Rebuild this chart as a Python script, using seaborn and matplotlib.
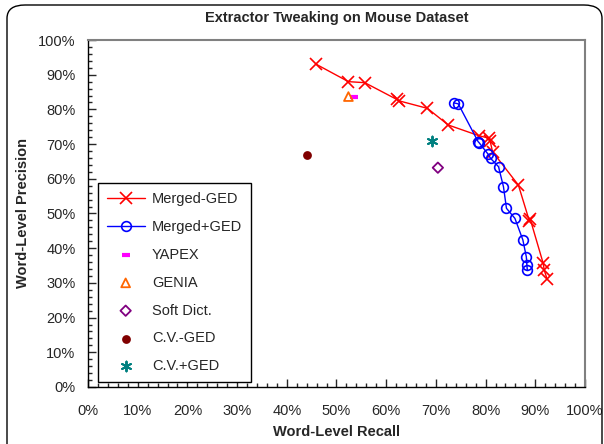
import matplotlib
matplotlib.use("Agg")
import matplotlib.pyplot as plt
from matplotlib.patches import FancyBboxPatch
from matplotlib.ticker import MultipleLocator, FuncFormatter
import seaborn as sns

# values (percent)
merged_minus_x = [45.8, 52.4, 55.7, 62.1, 62.5, 68.3, 72.5, 78.7, 80.7, 80.9, 81.4, 86.6, 88.8, 89.0, 91.6, 91.8, 92.4]
merged_minus_y = [93.1, 88.0, 87.7, 82.9, 82.5, 80.3, 75.5, 72.4, 71.7, 71.0, 67.8, 58.2, 47.9, 48.3, 35.6, 33.7, 31.0]

merged_plus_x = [73.6, 74.5, 78.5, 78.7, 80.5, 81.0, 82.6, 82.6, 83.6, 84.2, 85.9, 87.5, 88.2, 88.3, 88.4, 88.3]
merged_plus_y = [81.9, 81.6, 70.7, 70.4, 67.1, 65.9, 64.5, 62.5, 57.7, 51.5, 48.6, 42.4, 37.5, 37.1, 33.7, 33.3]

single_names = ["YAPEX", "GENIA", "Soft Dict.", "C.V.-GED", "C.V.+GED"]
single_x = [53.5, 52.4, 70.4, 44.1, 69.2]
single_y = [83.7, 83.7, 63.2, 66.9, 70.9]

sns.set_style("white")
plt.rcParams['font.family'] = ['Liberation Sans', 'DejaVu Sans']

fig = plt.figure(figsize=(6.04, 4.44), dpi=100)
ax = fig.add_axes([0.1457, 0.1284, 0.8228, 0.7815])

# rounded chart border like the Excel chart area
border = FancyBboxPatch((7 / 604, -20 / 444), 595 / 604, 459 / 444,
                        boxstyle="round,pad=0,rounding_size=0.03",
                        transform=fig.transFigure, fill=False,
                        edgecolor="black", linewidth=1.0, clip_on=False)
fig.patches.append(border)

sns.lineplot(x=merged_minus_x, y=merged_minus_y, sort=False, ax=ax, color="red",
             marker="x", markersize=8, markeredgecolor="red", markeredgewidth=1.2,
             linewidth=1.0, label="Merged-GED")
sns.lineplot(x=merged_plus_x, y=merged_plus_y, sort=False, ax=ax, color="blue",
             marker="o", markersize=7, markerfacecolor="none", markeredgecolor="blue",
             markeredgewidth=1.2, linewidth=1.0, label="Merged+GED")

styles = {
    "YAPEX": dict(marker="_", s=30, color="magenta", linewidths=3),
    "GENIA": dict(marker="^", s=40, facecolors="none", edgecolors="#ff6600", linewidths=1.3),
    "Soft Dict.": dict(marker="D", s=28, facecolors="none", edgecolors="#800080", linewidths=1.3),
    "C.V.-GED": dict(marker="o", s=40, color="#800000", linewidths=0),
    "C.V.+GED": dict(marker=(6, 2, 0), s=50, color="#008080", linewidths=1.4),
}
for name, x, y in zip(single_names, single_x, single_y):
    sns.scatterplot(x=[x], y=[y], ax=ax, label=name, **styles[name])

ax.set_xlim(0, 100)
ax.set_ylim(0, 100)
pct = FuncFormatter(lambda v, p: f"{v:.0f}%")
ax.xaxis.set_major_locator(MultipleLocator(10))
ax.yaxis.set_major_locator(MultipleLocator(10))
ax.xaxis.set_minor_locator(MultipleLocator(2))
ax.yaxis.set_minor_locator(MultipleLocator(2))
ax.xaxis.set_major_formatter(pct)
ax.yaxis.set_major_formatter(pct)
ax.tick_params(which="major", direction="in", length=6, width=1, labelsize=10.5,
               bottom=True, left=True, pad=9)
ax.tick_params(axis="x", which="major", pad=12)
ax.tick_params(which="minor", direction="in", length=3, width=1, bottom=True, left=True)

for side in ["left", "bottom"]:
    ax.spines[side].set_color("black")
    ax.spines[side].set_linewidth(1.0)
for side in ["right", "top"]:
    ax.spines[side].set_color("#808080")
    ax.spines[side].set_linewidth(1.5)

ax.set_xlabel("Word-Level Recall", fontsize=10.5, fontweight="bold", labelpad=5)
ax.set_ylabel("Word-Level Precision", fontsize=10.5, fontweight="bold", labelpad=6)
ax.set_title("Extractor Tweaking on Mouse Dataset", fontsize=10.5, fontweight="bold", pad=13)

leg = ax.legend(loc="lower left", bbox_to_anchor=(0.02, 0.0144), borderaxespad=0,
                fontsize=10.5, frameon=True, fancybox=False, edgecolor="black",
                framealpha=1, labelspacing=0.95, handlelength=2.6, handletextpad=0.5,
                borderpad=0.6)
leg.get_frame().set_linewidth(1.0)

fig.savefig("out.png", dpi=100)
